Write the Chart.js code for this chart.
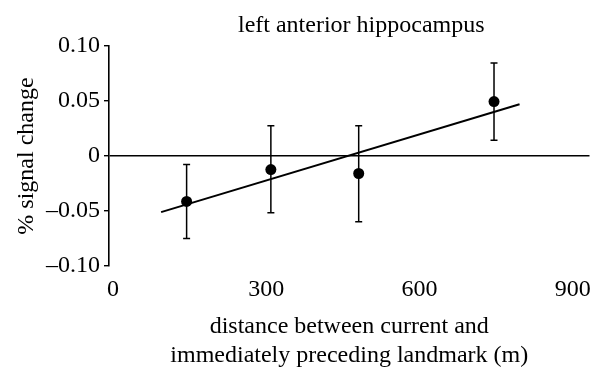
<!DOCTYPE html>
<html>
<head>
<meta charset="utf-8">
<script src="https://cdn.jsdelivr.net/npm/chart.js@4"></script>
<style>
  html, body { margin: 0; padding: 0; background: #fff; }
  #wrap { width: 595px; height: 372px; }
</style>
</head>
<body>
<div id="wrap"><canvas id="hippoChart" width="595" height="372"></canvas></div>
<script>
// distance (m) and % signal change per landmark bin
const distances = [144, 309, 481, 746];
const signal = [-0.0413, -0.0123, -0.0159, 0.0495];
const errHigh = [-0.0077, 0.0274, 0.0274, 0.0846];
const errLow = [-0.0749, -0.0515, -0.0597, 0.0143];

// fitted regression line end points
const fitX = [94, 796];
const fitY = [-0.051, 0.047];

const xTicks = [0, 300, 600, 900];
const yTicks = [-0.10, -0.05, 0, 0.05, 0.10];

const chartTitle = 'left anterior hippocampus';
const serif = 'Liberation Serif, Times New Roman, serif';

const errorBars = {
  id: 'errorBars',
  afterDatasetsDraw(chart) {
    const ctx = chart.ctx;
    const x = chart.scales.x, y = chart.scales.y;
    ctx.save();
    ctx.strokeStyle = '#000';
    ctx.lineWidth = 1.5;
    distances.forEach((d, i) => {
      const px = x.getPixelForValue(d);
      const top = y.getPixelForValue(errHigh[i]);
      const bot = y.getPixelForValue(errLow[i]);
      ctx.beginPath();
      ctx.moveTo(px, top); ctx.lineTo(px, bot);
      ctx.moveTo(px - 3.5, top); ctx.lineTo(px + 3.5, top);
      ctx.moveTo(px - 3.5, bot); ctx.lineTo(px + 3.5, bot);
      ctx.stroke();
    });
    ctx.restore();
  }
};

// title sits a little right of the plot centre in the original
const topTitle = {
  id: 'topTitle',
  afterDraw(chart) {
    const ctx = chart.ctx;
    const area = chart.chartArea;
    ctx.save();
    ctx.font = '24px ' + serif;
    ctx.fillStyle = '#000';
    ctx.textAlign = 'center';
    ctx.textBaseline = 'alphabetic';
    ctx.fillText(chartTitle, (area.left + area.right) / 2 + 12, 32);
    ctx.restore();
  }
};

const ctx = document.getElementById('hippoChart').getContext('2d');

new Chart(ctx, {
  type: 'scatter',
  data: {
    datasets: [{
      label: 'signal',
      data: distances.map((d, i) => ({ x: d, y: signal[i] })),
      backgroundColor: '#000',
      borderWidth: 0,
      pointRadius: 5.5
    }, {
      label: 'fit',
      type: 'line',
      data: fitX.map((d, i) => ({ x: d, y: fitY[i] })),
      borderColor: '#000',
      borderWidth: 2,
      pointRadius: 0,
      fill: false
    }]
  },
  options: {
    responsive: false,
    animation: false,
    events: [],
    layout: { padding: { top: 46, right: 2, bottom: 0, left: 0 } },
    plugins: {
      legend: { display: false },
      tooltip: { enabled: false }
    },
    scales: {
      x: {
        type: 'linear',
        min: -8,
        max: 933,
        afterBuildTicks: s => { s.ticks = xTicks.map(v => ({ value: v })); },
        afterFit: s => { s.height = 106; s.paddingLeft = 0; s.paddingRight = 0; },
        border: { display: false },
        grid: { display: false, drawTicks: false },
        ticks: {
          color: '#000',
          padding: 9,
          font: { family: serif, size: 24 },
          maxRotation: 0
        },
        title: {
          display: true,
          text: ['distance between current and', 'immediately preceding landmark (m)'],
          color: '#000',
          font: { family: serif, size: 24, lineHeight: 1.2 },
          padding: { top: 9, bottom: 1.6 }
        }
      },
      y: {
        type: 'linear',
        min: -0.10,
        max: 0.10,
        afterBuildTicks: s => { s.ticks = yTicks.map(v => ({ value: v })); },
        afterFit: s => { s.width = 109; },
        border: { display: true, color: '#000', width: 1.6 },
        grid: {
          color: c => (c.tick && c.tick.value === 0 ? '#000' : 'rgba(0,0,0,0)'),
          tickColor: '#000',
          lineWidth: 1.4,
          tickLength: 5
        },
        ticks: {
          color: '#000',
          padding: 4,
          font: { family: serif, size: 24 },
          callback: v => (v === 0 ? '0' : (v < 0 ? '\u2013' : '') + Math.abs(v).toFixed(2))
        },
        title: {
          display: true,
          text: '% signal change',
          color: '#000',
          font: { family: serif, size: 24, lineHeight: 1.2 },
          padding: { top: 12, bottom: 0 }
        }
      }
    }
  },
  plugins: [errorBars, topTitle]
});
</script>
</body>
</html>
